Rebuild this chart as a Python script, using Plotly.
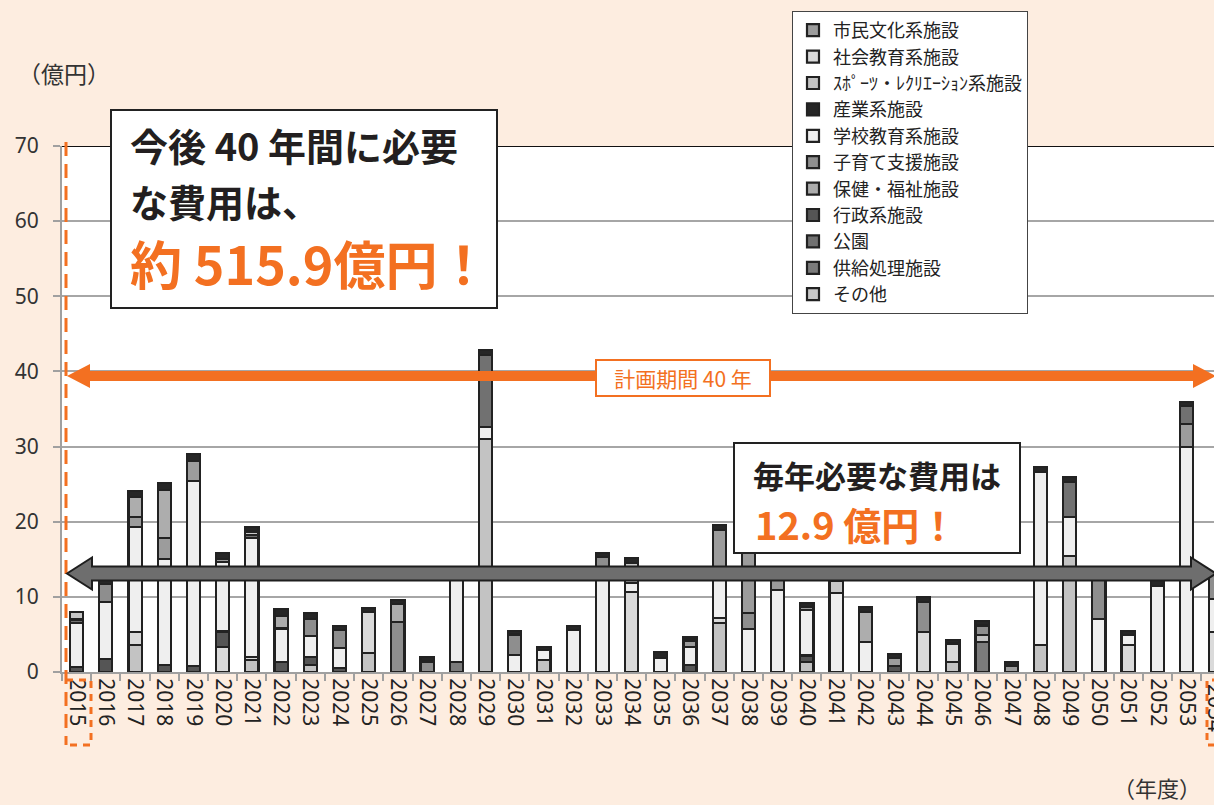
import plotly.graph_objects as go

# ---------------- data (億円) ----------------
YEARS = [str(y) for y in range(2015, 2055)]

# index 0 = 2015 ... 39 = 2054
KYOKYU   = [0,0,0,0,0, 0,0,0,0,0, 0,0,0,1.3,0, 0,0,0,0,0, 0,0,0,0,0, 0,0,0,0,0, 0,4.0,0,0,0, 0,0,0,0,0]
SPORTS   = [0,0,3.6,0,0, 0,1.6,0,0.9,0, 2.5,0,0,0,31.0, 0,1.6,0,0,0, 0,0,6.5,0,0, 1.3,0,0,0,0, 1.3,0.9,0,3.6,15.4, 0,0,0,0,0]
SHAKAI   = [0,0,1.7,0,0, 3.3,0.4,0,0,0, 5.5,0,0,0,0, 0,0,0,0,10.6, 0,0,0.7,0,0, 0,0,0,0,5.3, 2.5,0,0,0,0, 0,3.6,0,0,5.3]
GYOSEI   = [0.7,1.7,0,0.9,0.8, 2.1,0,1.3,1.1,0.5, 0,0,0,0,0, 0,0,0,0,0, 0,0.9,0,0,0, 0.9,0,0,0.8,0, 0,0,0,0,0, 0,0,0,0,0]
GAKKO    = [5.8,7.6,14.0,14.1,24.6, 9.2,15.8,4.5,2.8,2.7, 0,0,0,11.9,1.6, 2.3,1.3,5.6,13.8,1.2, 1.9,2.4,5.3,5.7,10.9, 6.0,10.5,4.0,0,0, 0,0,0,23.0,5.2, 7.1,1.3,11.4,29.9,4.4]
KOSODATE = [0,2.4,0,0,0, 0,0,0,2.3,2.4, 0,6.7,1.4,0,0, 2.7,0,0,1.5,0, 0,0,0,2.1,0, 0,0,0,0,4.0, 0,1.3,0,0,0, 5.7,0,0,0,3.3]
SHIMIN   = [0,0,1.3,2.8,2.7, 0.4,0,0,0,0, 0,0,0,0,0, 0,0,0,0,0, 0,0.9,6.4,8.9,2.1, 0.5,0,0,1.1,0, 0,0,0.8,0,0, 0,0,0,3.1,0]
HOKEN    = [0,0,2.7,6.4,0, 0,0,1.7,0,0, 0,2.4,0,0,0, 0,0,0,0,0, 0,0,0,0,0, 0,0,4.0,0,0, 0,0,0,0,0, 0,0,0,0,0]
KOEN     = [0.5,0,0,0,0, 0,0.4,0,0,0, 0,0,0,0,9.6, 0,0,0,0,0, 0,0,0,0,0, 0,0,0,0,0, 0,0,0,0,4.7, 0,0,0,2.4,0]
SONOTA   = [1.0,0,0,0,0, 0,0.5,0,0,0, 0,0,0,0,0, 0,0,0,0,2.7, 0,0,0,0,0, 0,1.6,0,0,0, 0,0,0,0,0, 0,0,0,0,0]
SANGYO   = [0,0.6,0.8,0.9,0.9, 0.8,0.6,0.9,0.8,0.5, 0.5,0.5,0.6,0,0.7, 0.5,0.4,0.5,0.5,0.7, 0.8,0.4,0.7,0.8,0.3, 0.5,0,0.7,0.5,0.7, 0.5,0.6,0.5,0.7,0.7, 0.6,0.6,0.8,0.5,0.3]

# (name, values, colour, legend rank) in stacking order bottom -> top
SERIES = [
    ("供給処理施設", KYOKYU, "#7C7C7C", 10),
    ("ｽﾎﾟｰﾂ・ﾚｸﾘｴｰｼｮﾝ系施設", SPORTS, "#C3C3C3", 3),
    ("社会教育系施設", SHAKAI, "#DADADA", 2),
    ("行政系施設", GYOSEI, "#555555", 8),
    ("学校教育系施設", GAKKO, "#EFEFEF", 5),
    ("子育て支援施設", KOSODATE, "#8E8E8E", 6),
    ("市民文化系施設", SHIMIN, "#9C9C9C", 1),
    ("保健・福祉施設", HOKEN, "#ADADAD", 7),
    ("公園", KOEN, "#717171", 9),
    ("その他", SONOTA, "#C8C8C8", 11),
    ("産業系施設", SANGYO, "#262626", 4),
]

TOTAL_TEXT = "515.9"
ANNUAL_TEXT = "12.9"
PLAN_YEARS = 40

# ---------------- geometry helpers (pixels -> paper) ----------------
W, H = 1214, 805
PL, PT, PR, PB = 62, 146, 0, 133
PW, PH = W - PL - PR, H - PT - PB
YMAX = 70

def px(p):
    return (p - PL) / PW

def py(p):
    return (PT + PH - p) / PH

def vy(v):  # data value -> pixel y
    return PT + PH - v * PH / YMAX

ORANGE = "#F37021"
FONT = "Noto Sans CJK JP"

fig = go.Figure()
for name, vals, col, rank in SERIES:
    fig.add_trace(go.Bar(
        x=YEARS, y=[v if v else None for v in vals], name=name,
        marker=dict(color=col, line=dict(color="#222222", width=2.2)),
        legendrank=rank, hoverinfo="x+y+name",
    ))

totals = [sum(s[1][i] for s in SERIES) for i in range(len(YEARS))]
mean_val = sum(totals) / len(totals)

shapes = []
# black top line at 70
shapes.append(dict(type="line", xref="paper", yref="y", x0=0, x1=1, y0=YMAX, y1=YMAX,
                   line=dict(color="#111111", width=2), layer="above"))

# orange dashed marker of plan start + brackets around first / last year labels
shapes.append(dict(type="line", xref="paper", yref="paper", x0=px(66), x1=px(66), y0=py(142), y1=py(745),
                   line=dict(color=ORANGE, width=3, dash="14px,8px"), layer="above"))
shapes.append(dict(type="path", xref="paper", yref="paper",
                   path=f"M{px(66)},{py(680)} L{px(91)},{py(680)} L{px(91)},{py(745)} L{px(66)},{py(745)}",
                   line=dict(color=ORANGE, width=3, dash="7px,6px"), layer="above"))
shapes.append(dict(type="path", xref="paper", yref="paper",
                   path=f"M{px(1232)},{py(680)} L{px(1207)},{py(680)} L{px(1207)},{py(745)} L{px(1232)},{py(745)}",
                   line=dict(color=ORANGE, width=3, dash="7px,6px"), layer="above"))

def dbl_arrow(yc, x0, x1, half_shaft, half_head, head_len):
    pts = [(x0, yc), (x0 + head_len, yc - half_head), (x0 + head_len, yc - half_shaft),
           (x1 - head_len, yc - half_shaft), (x1 - head_len, yc - half_head), (x1, yc),
           (x1 - head_len, yc + half_head), (x1 - head_len, yc + half_shaft),
           (x0 + head_len, yc + half_shaft), (x0 + head_len, yc + half_head)]
    return "M" + " L".join(f"{px(a)},{py(b)}" for a, b in pts) + " Z"

# orange plan-period arrow (≈40)
shapes.append(dict(type="path", xref="paper", yref="paper",
                   path=dbl_arrow(vy(39.4), 67, 1216, 5, 12, 23),
                   fillcolor=ORANGE, line=dict(width=0), layer="above"))
# grey mean arrow
shapes.append(dict(type="path", xref="paper", yref="paper",
                   path=dbl_arrow(vy(mean_val), 67, 1216, 7, 16, 25),
                   fillcolor="#6E6E6E", line=dict(color="#1E1E1E", width=2), layer="above"))

# text boxes
shapes.append(dict(type="rect", xref="paper", yref="paper", x0=px(111), x1=px(497), y0=py(110), y1=py(308),
                   fillcolor="white", line=dict(color="#222222", width=2), layer="above"))
shapes.append(dict(type="rect", xref="paper", yref="paper", x0=px(734), x1=px(1020), y0=py(443), y1=py(553),
                   fillcolor="white", line=dict(color="#222222", width=2), layer="above"))

ann = []
def text(x, y, s, size, color="#231F20", bold=False, xanchor="left", **kw):
    t = f"<b>{s}</b>" if bold else s
    ann.append(dict(xref="paper", yref="paper", x=px(x), y=py(y), text=t, showarrow=False,
                    xanchor=xanchor, yanchor="middle", font=dict(family=FONT, size=size, color=color), **kw))

text(128, 144, "今後 40 年間に必要", 38, bold=True)
text(128, 200, "な費用は、", 38, bold=True)
text(128, 262, f"約 {TOTAL_TEXT}億円！", 52, color=ORANGE, bold=True)
text(751, 474, "毎年必要な費用は", 31, bold=True)
text(753, 523, f"{ANNUAL_TEXT} 億円！", 38, color=ORANGE, bold=True)
text(16, 73, "（億円）", 23, color="#333333")
text(1203, 787, "（年度）", 22, color="#333333", xanchor="right")
ann.append(dict(xref="paper", yref="paper", x=px(683), y=py(378), text=f"計画期間 {PLAN_YEARS} 年",
                showarrow=False, xanchor="center", yanchor="middle",
                font=dict(family=FONT, size=21, color=ORANGE),
                bgcolor="white", bordercolor=ORANGE, borderwidth=2, borderpad=3, width=166, height=28))
# last year label (partly outside the view, as in the original)
ann.append(dict(xref="paper", yref="paper", x=px(1216), y=py(682), text=YEARS[-1], showarrow=False,
                textangle=90, xanchor="center", yanchor="top",
                font=dict(family="Noto Sans", size=21, color="#222222")))

fig.update_layout(
    width=W, height=H,
    margin=dict(l=PL, r=PR, t=PT, b=PB, autoexpand=False),
    paper_bgcolor="#FDEDE0", plot_bgcolor="white",
    barmode="stack", bargap=0.55,
    font=dict(family=FONT, color="#222222"),
    shapes=shapes, annotations=ann,
    legend=dict(x=px(792), y=py(11), xanchor="left", yanchor="top",
                bgcolor="white", bordercolor="#444444", borderwidth=1,
                font=dict(family=FONT, size=18, color="#222222"),
                traceorder="normal", itemwidth=30, tracegroupgap=0),
    showlegend=True,
)
fig.update_xaxes(type="category", range=[-0.5, -0.5 + PW / 29.21], tickson="boundaries",
                 ticks="outside", ticklen=7, tickwidth=2, tickcolor="#A0A0A0",
                 showline=True, linecolor="#A0A0A0", linewidth=2, showgrid=False,
                 tickangle=90, tickfont=dict(family="Noto Sans", size=21, color="#222222"),
                 automargin=False, fixedrange=True)
fig.update_yaxes(range=[0, YMAX], tickvals=list(range(0, YMAX + 1, 10)),
                 ticks="outside", ticklen=7, tickwidth=2, tickcolor="#A0A0A0",
                 showline=True, linecolor="#A0A0A0", linewidth=2,
                 showgrid=True, gridcolor="#A6A6A6", gridwidth=2, zeroline=False,
                 tickfont=dict(family="Noto Sans", size=21, color="#333333"),
                 ticklabelstandoff=10, automargin=False, fixedrange=True)

fig.write_html("out.html", config={"displayModeBar": False},
               post_script="document.body.style.margin='0';document.body.style.overflow='hidden';")
